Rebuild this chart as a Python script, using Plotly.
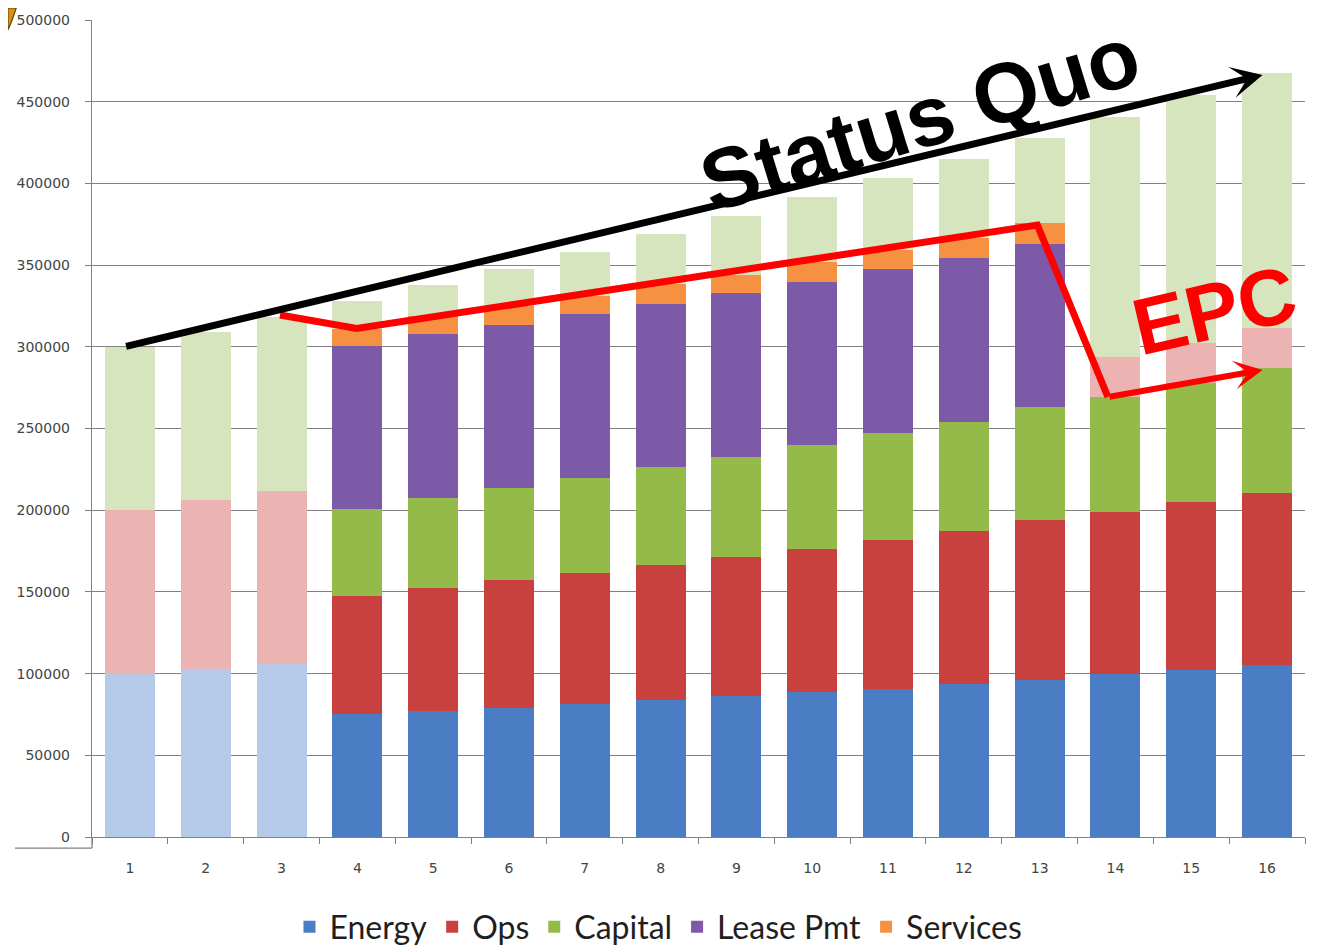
import plotly.graph_objects as go

# ---------------- data ----------------
periods = list(range(1, 17))
tick_labels = [str(p) for p in periods]

# "Status Quo" stack (faded, drawn behind)
sq_energy = [100000, 103000, 106000, 109300, 112600, 115900, 119400, 123000,
             126700, 130500, 134400, 138400, 142600, 146900, 151300, 155800]
sq_ops = [100000, 103000, 106000, 109300, 112600, 115900, 119400, 123000,
          126700, 130500, 134400, 138400, 142600, 146900, 151300, 155800]
sq_capital = [100000, 103000, 106000, 109300, 112600, 115900, 119400, 123000,
              126700, 130500, 134400, 138400, 142600, 146900, 151300, 155800]

# EPC stack (solid, in front), periods 4..16
epc_periods = list(range(4, 17))
epc_energy = [75000, 77000, 79000, 81500, 84000, 86500, 88500, 90500, 93500,
              96000, 100000, 102500, 105000]
epc_ops = [72500, 75500, 78500, 80000, 82500, 85000, 88000, 91500, 94000,
           98000, 99000, 102500, 105500]
epc_capital = [53200, 55200, 56100, 58400, 59700, 61200, 63400, 65400, 66700,
               69000, 70100, 73000, 76700]
epc_lease = [100000, 100000, 100000, 100000, 100000, 100000, 100000, 100000,
             100000, 100000, 0, 0, 0]
epc_services = [10500, 11000, 11500, 11000, 12000, 11500, 12000, 12000, 12500,
                13000, 0, 0, 0]

series_names = ["Energy", "Ops", "Capital", "Lease Pmt", "Services"]

# annotation geometry (data coordinates)
sq_arrow_start = (0.93, 300000)
sq_arrow_end = (15.94, 466300)
epc_path_x = [2.98, 3.99, 12.97, 13.9]
epc_path_y = [319500, 311300, 374500, 269300]
epc_arrow_end = (15.94, 285800)

# ---------------- styles ----------------
solid = ["#4A7DC4", "#C8413E", "#94BA4A", "#7C5AA8", "#F59140"]
faded = ["#B5C9E8", "#ECB3B3", "#D6E5BE"]
GRID = "#808080"
TICKFONT = dict(family="DejaVu Sans", size=14, color="#444444")

fig = go.Figure()

# faded status quo stack on x / y
for vals, col in zip([sq_energy, sq_ops, sq_capital], faded):
    fig.add_trace(go.Bar(x=periods, y=vals, marker=dict(color=col, line=dict(width=0)),
                         width=0.66, showlegend=False, hoverinfo="skip",
                         xaxis="x", yaxis="y"))

# solid EPC stack on overlaying x2 / y
for name, vals, col in zip(series_names,
                           [epc_energy, epc_ops, epc_capital, epc_lease, epc_services],
                           solid):
    fig.add_trace(go.Bar(x=epc_periods, y=vals, name=name,
                         marker=dict(color=col, line=dict(width=0)),
                         width=0.66, xaxis="x2", yaxis="y"))

fig.update_layout(
    width=1317, height=951,
    barmode="stack",
    paper_bgcolor="white", plot_bgcolor="white",
    margin=dict(l=84, r=20, t=12, b=122, autoexpand=False),
    font=dict(family="DejaVu Sans", color="#404040"),
    xaxis=dict(range=[0.5, 16.5], tickmode="array", tickvals=periods,
               ticktext=tick_labels, ticks="", showgrid=False, zeroline=False,
               showline=True, linecolor=GRID, linewidth=1.4,
               tickfont=TICKFONT, ticklabelstandoff=18,
               minor=dict(tickmode="array",
                          tickvals=[p + 0.5 for p in [0] + periods],
                          ticks="outside", ticklen=6, tickcolor=GRID,
                          showgrid=False)),
    xaxis2=dict(range=[0.5, 16.5], overlaying="x", visible=False,
                showgrid=False, zeroline=False),
    yaxis=dict(range=[0, 500000], tickmode="linear", tick0=0, dtick=50000,
               showgrid=True, gridcolor=GRID, gridwidth=1.4, zeroline=False,
               showline=True, linecolor=GRID, linewidth=1.4,
               ticks="outside", ticklen=6, tickcolor=GRID,
               tickfont=TICKFONT, ticklabelstandoff=12,
               tickformat="d"),
    legend=dict(orientation="h", x=0.467, xanchor="center",
                y=-0.11, yanchor="middle", traceorder="normal",
                font=dict(family="Lato", size=32, color="#1f1f1f"),
                bgcolor="rgba(0,0,0,0)"),
)

# red EPC polyline
path = "M " + " L ".join(f"{x},{y}" for x, y in zip(epc_path_x, epc_path_y))
fig.add_shape(type="path", path=path, xref="x", yref="y", layer="above",
              line=dict(color="#FF0000", width=7))

# arrows
fig.add_annotation(x=sq_arrow_end[0], y=sq_arrow_end[1], ax=sq_arrow_start[0],
                   ay=sq_arrow_start[1], xref="x", yref="y", axref="x", ayref="y",
                   text="", showarrow=True, arrowhead=3, arrowsize=0.75,
                   arrowwidth=7, arrowcolor="black")
fig.add_annotation(x=epc_arrow_end[0], y=epc_arrow_end[1], ax=epc_path_x[-1],
                   ay=epc_path_y[-1], xref="x", yref="y", axref="x", ayref="y",
                   text="", showarrow=True, arrowhead=3, arrowsize=0.8,
                   arrowwidth=6, arrowcolor="#FF0000")

# big labels
fig.add_annotation(x=11.42, y=440000, xref="x", yref="y", text="<b>Status Quo</b>",
                   showarrow=False, textangle=-17,
                   font=dict(family="Liberation Sans", size=85, color="black"))
fig.add_annotation(x=15.3, y=322500, xref="x", yref="y", text="<b>EPC</b>",
                   showarrow=False, textangle=-13,
                   font=dict(family="Liberation Sans", size=80, color="#FF0000"))

# small decorative bits (top-left corner mark, 3-D floor edge)
fig.add_shape(type="path", xref="paper", yref="paper",
              path="M -0.0693,1.0147 L -0.0625,1.0147 Q -0.066,0.998 -0.0693,0.988 Z",
              fillcolor="#D8901C", line=dict(color="#6b4200", width=1.2), layer="above")
fig.add_shape(type="line", xref="paper", yref="paper", x0=-0.0635, x1=0,
              y0=-0.0135, y1=-0.0135, line=dict(color=GRID, width=1.3))
fig.add_shape(type="line", xref="paper", yref="paper", x0=0, x1=0,
              y0=-0.0135, y1=0, line=dict(color=GRID, width=1.3))

fig.write_html("out.html")
